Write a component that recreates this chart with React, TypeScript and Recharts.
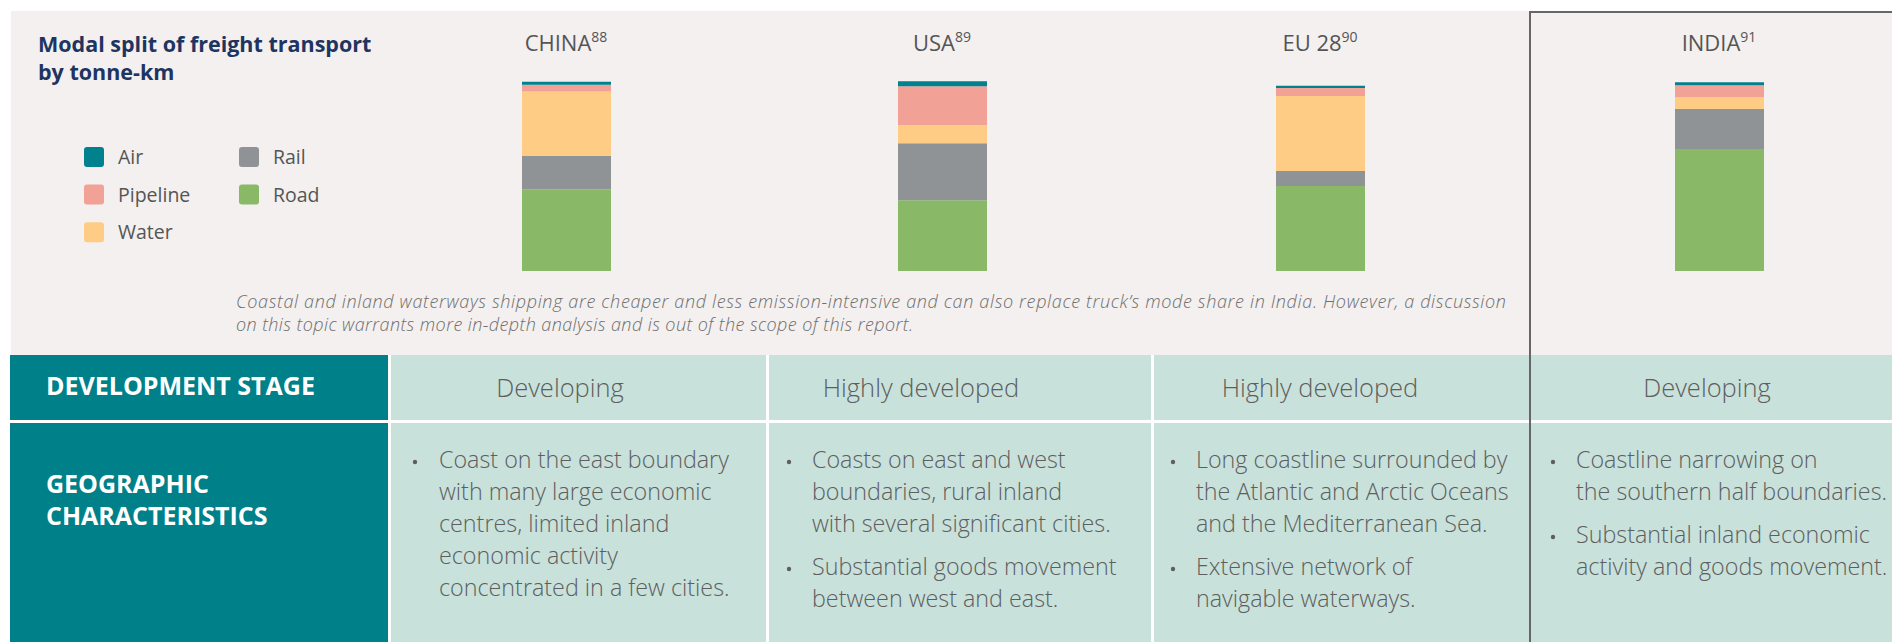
import { BarChart, Bar, XAxis, YAxis } from 'recharts';

// modal split of freight, % of tonne-km
const countries = ['CHINA', 'USA', 'EU 28', 'INDIA'];
const sourceNotes = ['88', '89', '90', '91'];
const road = [43.0, 37.3, 44.7, 64.2];
const rail = [17.5, 30.0, 7.9, 21.0];
const water = [34.0, 9.5, 39.5, 6.3];
const pipeline = [3.5, 20.5, 4.2, 6.3];
const air = [1.6, 2.6, 1.2, 1.6];

const stages = ['Developing', 'Highly developed', 'Highly developed', 'Developing'];
const geography = [
  [['Coast on the east boundary', 'with many large economic', 'centres, limited inland', 'economic activity', 'concentrated in a few cities.']],
  [['Coasts on east and west', 'boundaries, rural inland', 'with several significant cities.'], ['Substantial goods movement', 'between west and east.']],
  [['Long coastline surrounded by', 'the Atlantic and Arctic Oceans', 'and the Mediterranean Sea.'], ['Extensive network of', 'navigable waterways.']],
  [['Coastline narrowing on', 'the southern half boundaries.'], ['Substantial inland economic', 'activity and goods movement.']],
];

const caption = [
  'Coastal and inland waterways shipping are cheaper and less emission-intensive and can also replace truck’s mode share in India. However, a discussion',
  'on this topic warrants more in-depth analysis and is out of the scope of this report.',
];
const captionWidths = [1270, 677];

// stacked bottom to top
const SERIES = [
  { key: 'road', name: 'Road', color: '#89B866' },
  { key: 'rail', name: 'Rail', color: '#8F9396' },
  { key: 'water', name: 'Water', color: '#FECC84' },
  { key: 'pipeline', name: 'Pipeline', color: '#F2A196' },
  { key: 'air', name: 'Air', color: '#00818E' },
];
const legendOrder = ['air', 'pipeline', 'water', 'rail', 'road'];

const rows = countries.map((c, i) => ({
  country: c,
  note: sourceNotes[i],
  road: road[i],
  rail: rail[i],
  water: water[i],
  pipeline: pipeline[i],
  air: air[i],
}));

const FONT = "'Open Sans', sans-serif";
const TEXT = '#5e5e5e';
const BG = '#F3F0EF';
const TEAL = '#008189';
const CELL = '#C8E1DB';

const barCenters = [565.5, 941.5, 1319.5, 1718.5];
const cols = [
  { x: 391, w: 375, stageX: 560, bulletX: 415, textX: 439 },
  { x: 769, w: 382, stageX: 921, bulletX: 789, textX: 812 },
  { x: 1154, w: 375, stageX: 1320, bulletX: 1173, textX: 1196 },
  { x: 1531, w: 361, stageX: 1707, bulletX: 1553, textX: 1576 },
];

const CHART_W = 300;

function CountryTick(props: any) {
  const { x, payload, note } = props;
  return (
    <text x={x} y={31} textAnchor="middle" fontFamily={FONT} fontSize={22} fill="#555">
      {payload.value}
      <tspan fontSize={14} dy={-9}>{note}</tspan>
    </text>
  );
}

function CountryBar({ row }: { row: any }) {
  const data = [row];
  return (
    <BarChart width={CHART_W} height={251} data={data} margin={{ top: 0, right: 0, bottom: 0, left: 0 }}>
      <XAxis
        dataKey="country"
        orientation="top"
        height={61}
        axisLine={false}
        tickLine={false}
        interval={0}
        tick={(p: any) => <CountryTick {...p} note={row.note} />}
      />
      <YAxis hide domain={[0, 100]} />
      {SERIES.map(s => (
        <Bar key={s.key} dataKey={s.key} name={s.name} stackId="m" fill={s.color} barSize={89} isAnimationActive={false} />
      ))}
    </BarChart>
  );
}

export default function App() {
  const legendItems = legendOrder.map(k => SERIES.find(s => s.key === k)!);
  return (
    <div style={{ position: 'relative', width: 1892, height: 642, overflow: 'hidden', background: '#fff', fontFamily: FONT }}>
      <style>{'body{margin:0}'}</style>
      {/* backgrounds */}
      <div style={{ position: 'absolute', left: 11, top: 11, width: 1881, height: 344, background: BG }} />
      <div style={{ position: 'absolute', left: 10, top: 355, width: 378, height: 65, background: TEAL }} />
      <div style={{ position: 'absolute', left: 10, top: 423, width: 378, height: 219, background: TEAL }} />
      {cols.map((c, i) => (
        <div key={i}>
          <div style={{ position: 'absolute', left: c.x, top: 355, width: c.w, height: 65, background: CELL }} />
          <div style={{ position: 'absolute', left: c.x, top: 423, width: c.w, height: 219, background: CELL }} />
        </div>
      ))}
      {/* India highlight frame */}
      <div style={{ position: 'absolute', left: 1529, top: 11, width: 400, height: 700, border: '2px solid #666', boxSizing: 'border-box' }} />

      {/* bars */}
      {rows.map((r, i) => (
        <div key={r.country} style={{ position: 'absolute', left: barCenters[i] - CHART_W / 2, top: 20 }}>
          <CountryBar row={r} />
        </div>
      ))}

      {/* text layer */}
      <svg width={1892} height={642} style={{ position: 'absolute', left: 0, top: 0, pointerEvents: 'none' }} fontFamily={FONT}>
        <text x={38} y={52} fontSize={21.5} fontWeight={700} fill="#1E3461">Modal split of freight transport</text>
        <text x={38} y={80} fontSize={21.5} fontWeight={700} fill="#1E3461">by tonne-km</text>

        {legendItems.map((s, i) => {
          const col = i < 3 ? 0 : 1;
          const r = i < 3 ? i : i - 3;
          const sx = col === 0 ? 84 : 239;
          const cy = 157 + r * 37.6;
          return (
            <g key={s.key}>
              <rect x={sx} y={cy - 10} width={20} height={20} rx={3} fill={s.color} />
              <text x={sx + 34} y={cy + 7} fontSize={19.5} fill="#555">{s.name}</text>
            </g>
          );
        })}

        {caption.map((line, i) => (
          <text key={i} x={236} y={307.5 + i * 23.5} fontSize={18} fontStyle="italic" fontWeight={300} fill="#6e6e6e"
            textLength={captionWidths[i]} lengthAdjust="spacing">{line}</text>
        ))}

        <text x={46} y={395} fontSize={25} fontWeight={700} fill="#fff">DEVELOPMENT STAGE</text>
        <text x={46} y={493} fontSize={25} fontWeight={700} fill="#fff">GEOGRAPHIC</text>
        <text x={46} y={525} fontSize={25} fontWeight={700} fill="#fff">CHARACTERISTICS</text>

        {cols.map((c, i) => {
          let y = 468;
          const out: any[] = [];
          geography[i].forEach((para, p) => {
            out.push(<circle key={`b${p}`} cx={c.bulletX} cy={y - 6} r={2.2} fill={TEXT} />);
            para.forEach((line, l) => {
              out.push(<text key={`t${p}-${l}`} x={c.textX} y={y} fontSize={23.3} fontWeight={300} fill={TEXT}>{line}</text>);
              y += 32;
            });
            y += 11;
          });
          return (
            <g key={i}>
              <text x={c.stageX} y={397} textAnchor="middle" fontSize={25.5} fontWeight={300} fill={TEXT}>{stages[i]}</text>
              {out}
            </g>
          );
        })}
      </svg>
    </div>
  );
}
